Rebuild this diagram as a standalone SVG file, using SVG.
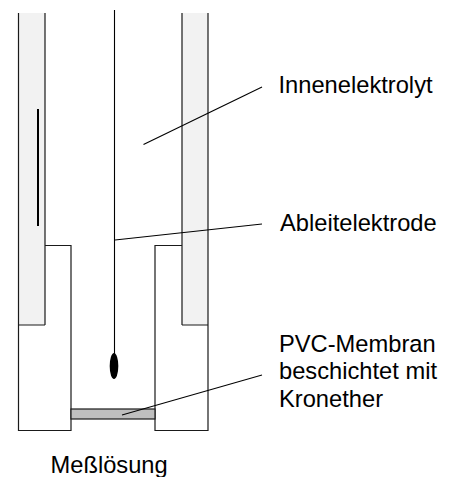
<svg xmlns="http://www.w3.org/2000/svg" width="456" height="477" viewBox="0 0 456 477">
<style>
.w{fill:#f2f2f2;stroke:none}
.l{fill:none;stroke:#1a1a1a;stroke-width:1.200}
.c{fill:none;stroke:#000;stroke-width:1.100}
text{font-family:"Liberation Sans",Arial,sans-serif;font-size:23.700px;fill:#000}
</style>
<rect width="456" height="477" fill="#fff"/>
<g id="wall-left">
<rect class="w" x="18" y="13" width="27" height="312"/>
<path class="l" d="M18.500 13V325M45 13V325M18 325H45"/>
<path d="M38 109V226" fill="none" stroke="#000" stroke-width="2"/>
</g>
<g id="wall-right">
<rect class="w" x="182" y="13" width="26" height="312"/>
<path class="l" d="M182 13V325M208 13V325M182 325H208"/>
</g>
<g id="tube-left">
<path class="l" d="M45 245.500H71V430.500H18.500V325"/>
</g>
<g id="tube-right">
<path class="l" d="M182 245.500H155V430.500H208V325"/>
</g>
<g id="electrode">
<path class="c" d="M114.500 10V355"/>
<ellipse cx="114" cy="366" rx="4.300" ry="13" fill="#000"/>
</g>
<g id="membrane">
<rect x="71" y="409" width="84" height="10" fill="#bfbfbf" stroke="#1a1a1a" stroke-width="1.200"/>
</g>
<g id="connectors">
<path class="c" d="M143.500 144.500L262 87"/>
<path class="c" d="M115 240L262 224"/>
<path class="c" d="M122 415L262 375"/>
</g>
<g id="label-innenelektrolyt"><text x="278.500" y="93">Innenelektrolyt</text></g>
<g id="label-ableitelektrode"><text x="280" y="231">Ableitelektrode</text></g>
<g id="label-pvc"><text x="279" y="352">PVC-Membran</text><text x="279" y="379">beschichtet mit</text><text x="279" y="407">Kronether</text></g>
<g id="label-messloesung"><text x="50.500" y="473">Meßlösung</text></g>
</svg>
